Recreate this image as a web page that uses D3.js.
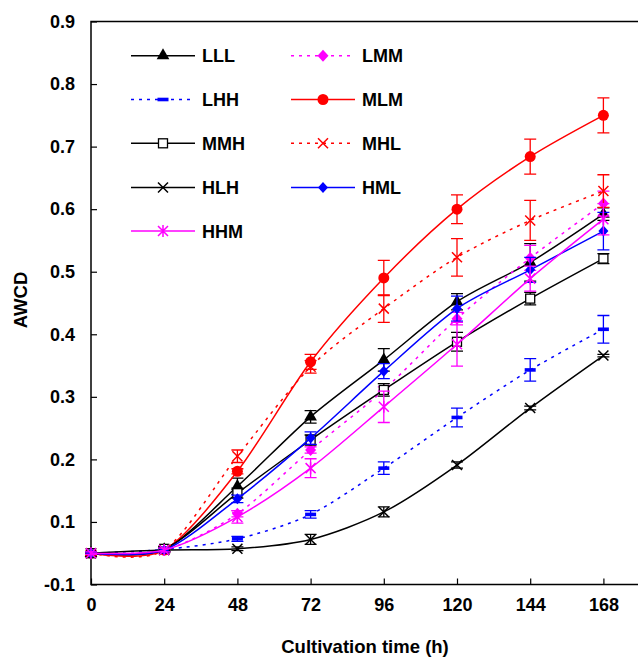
<!DOCTYPE html>
<html>
<head>
<meta charset="utf-8">
<script src="https://cdn.jsdelivr.net/npm/d3@7.9.0/dist/d3.min.js"></script>
<style>
  body { margin: 0; background: #fff; }
  svg { display: block; font-family: "Liberation Sans", Arial, sans-serif; font-weight: bold; }
</style>
</head>
<body>
<svg width="638" height="658"></svg>
<script>
// sampling times (h)
const times = [0, 24, 48, 72, 96, 120, 144, 168];
const xTicks = [0, 24, 48, 72, 96, 120, 144, 168];
const yTicks = [0, 0.1, 0.2, 0.3, 0.4, 0.5, 0.6, 0.7, 0.8, 0.9];
const yTickLabels = ['-0.1', '0.1', '0.2', '0.3', '0.4', '0.5', '0.6', '0.7', '0.8', '0.9'];

// AWCD means
const LLL = [0.050, 0.056, 0.157, 0.268, 0.359, 0.452, 0.515, 0.592];
const LMM = [0.050, 0.055, 0.113, 0.215, 0.311, 0.425, 0.522, 0.609];
const LHH = [0.050, 0.056, 0.073, 0.112, 0.186, 0.267, 0.343, 0.408];
const MLM = [0.050, 0.055, 0.181, 0.356, 0.490, 0.600, 0.684, 0.750];
const MMH = [0.050, 0.057, 0.146, 0.231, 0.311, 0.388, 0.457, 0.521];
const MHL = [0.050, 0.055, 0.205, 0.348, 0.441, 0.523, 0.582, 0.629];
const HLH = [0.050, 0.055, 0.057, 0.072, 0.116, 0.191, 0.282, 0.366];
const HML = [0.050, 0.055, 0.137, 0.234, 0.341, 0.441, 0.503, 0.565];
const HHM = [0.050, 0.055, 0.108, 0.186, 0.284, 0.384, 0.489, 0.584];

// error bars (+/-)
const LLLerr = [0.002, 0.004, 0.013, 0.010, 0.018, 0.013, 0.030, 0.010];
const LMMerr = [0.002, 0.003, 0.005, 0.005, 0.005, 0.010, 0.020, 0.020];
const LHHerr = [0.002, 0.003, 0.004, 0.006, 0.010, 0.015, 0.018, 0.022];
const MLMerr = [0.003, 0.003, 0.004, 0.012, 0.028, 0.023, 0.028, 0.028];
const MMHerr = [0.002, 0.004, 0.008, 0.008, 0.010, 0.015, 0.010, 0.008];
const MHLerr = [0.003, 0.003, 0.010, 0.010, 0.022, 0.030, 0.032, 0.026];
const HLHerr = [0.002, 0.003, 0.003, 0.008, 0.008, 0.005, 0.003, 0.002];
const HMLerr = [0.002, 0.003, 0.006, 0.010, 0.012, 0.020, 0.020, 0.030];
const HHMerr = [0.002, 0.003, 0.010, 0.015, 0.025, 0.035, 0.020, 0.025];

const series = [
  { name: 'LLL', values: LLL, err: LLLerr, color: '#000000', dash: null, marker: 'triangle' },
  { name: 'LMM', values: LMM, err: LMMerr, color: '#ff00ff', dash: '3,5', marker: 'diamond' },
  { name: 'LHH', values: LHH, err: LHHerr, color: '#0000ff', dash: '3,5', marker: 'dash' },
  { name: 'MLM', values: MLM, err: MLMerr, color: '#ff0000', dash: null, marker: 'circle' },
  { name: 'MMH', values: MMH, err: MMHerr, color: '#000000', dash: null, marker: 'square' },
  { name: 'MHL', values: MHL, err: MHLerr, color: '#ff0000', dash: '3,5', marker: 'x' },
  { name: 'HLH', values: HLH, err: HLHerr, color: '#000000', dash: null, marker: 'x' },
  { name: 'HML', values: HML, err: HMLerr, color: '#0000ff', dash: null, marker: 'smalldiamond' },
  { name: 'HHM', values: HHM, err: HHMerr, color: '#ff00ff', dash: null, marker: 'asterisk' }
];

const svg = d3.select('svg');
const x = d3.scaleLinear().domain([0, 180]).range([91, 640]);
const y = d3.scaleLinear().domain([0, 0.9]).range([584.5, 21.5]);

// frame
svg.append('path')
  .attr('d', `M${x(180)},${y(0.9)}H${x(0)}V${y(0)}H${x(180)}`)
  .attr('fill', 'none').attr('stroke', '#000').attr('stroke-width', 1.5);

// axes with inward ticks
const xAxis = svg.append('g').attr('transform', `translate(0,${y(0)})`)
  .call(d3.axisBottom(x).tickValues(xTicks).tickSizeInner(-6).tickSizeOuter(0).tickPadding(14));
const yAxis = svg.append('g').attr('transform', `translate(${x(0)},0)`)
  .call(d3.axisLeft(y).tickValues(yTicks).tickSizeInner(-6).tickSizeOuter(0).tickPadding(16)
    .tickFormat((d, i) => yTickLabels[i]));
[xAxis, yAxis].forEach(g => {
  g.select('.domain').remove();
  g.selectAll('.tick line').attr('stroke', '#000').attr('stroke-width', 1.2);
  g.selectAll('.tick text').attr('fill', '#000')
    .style('font-family', '"Liberation Sans", Arial, sans-serif')
    .style('font-weight', 'bold').style('font-size', '18px');
});

svg.append('text').attr('x', 365).attr('y', 653).attr('text-anchor', 'middle')
  .style('font-size', '18.5px').text('Cultivation time (h)');
svg.append('text').attr('transform', 'translate(27,300) rotate(-90)').attr('text-anchor', 'middle')
  .style('font-size', '18.5px').text('AWCD');

function drawMarker(g, type, color) {
  switch (type) {
    case 'triangle':
      g.append('path').attr('d', d3.symbol(d3.symbolTriangle, 70)()).attr('fill', color);
      break;
    case 'diamond':
      g.append('path').attr('d', 'M0,-6L5.5,0L0,6L-5.5,0Z').attr('fill', color);
      break;
    case 'smalldiamond':
      g.append('path').attr('d', 'M0,-5.5L5,0L0,5.5L-5,0Z').attr('fill', color);
      break;
    case 'circle':
      g.append('circle').attr('r', 5.5).attr('fill', color);
      break;
    case 'square':
      g.append('rect').attr('x', -4.5).attr('y', -4.5).attr('width', 9).attr('height', 9)
        .attr('fill', '#fff').attr('stroke', color).attr('stroke-width', 1.3);
      break;
    case 'dash':
      g.append('rect').attr('x', -5.5).attr('y', -1.8).attr('width', 11).attr('height', 3.6).attr('fill', color);
      break;
    case 'x':
      g.append('path').attr('d', 'M-5,-5L5,5M-5,5L5,-5').attr('stroke', color).attr('stroke-width', 1.5);
      break;
    case 'asterisk':
      g.append('path').attr('d', 'M-5,-5L5,5M-5,5L5,-5M0,-6V6').attr('stroke', color).attr('stroke-width', 1.5);
      break;
  }
}

const line = d3.line().x((d, i) => x(times[i])).y(d => y(d)).curve(d3.curveCardinal.tension(0.15));

series.forEach(s => {
  const g = svg.append('g');
  g.append('path').attr('d', line(s.values)).attr('fill', 'none')
    .attr('stroke', s.color).attr('stroke-width', 1.5)
    .attr('stroke-dasharray', s.dash);
  s.values.forEach((v, i) => {
    const e = s.err[i], cx = x(times[i]);
    g.append('path')
      .attr('d', `M${cx},${y(v - e)}V${y(v + e)}M${cx - 6},${y(v + e)}H${cx + 6}M${cx - 6},${y(v - e)}H${cx + 6}`)
      .attr('stroke', s.color).attr('stroke-width', 1.3).attr('fill', 'none');
  });
  s.values.forEach((v, i) => {
    drawMarker(g.append('g').attr('transform', `translate(${x(times[i])},${y(v)})`), s.marker, s.color);
  });
});

// legend, two columns filled row by row
const legendCols = [131, 291];
const legendRows = [55.7, 99.5, 143.3, 187.5, 231];
series.forEach((s, i) => {
  const cx = legendCols[i % 2], cy = legendRows[Math.floor(i / 2)];
  const g = svg.append('g').attr('transform', `translate(${cx},${cy})`);
  g.append('line').attr('x1', 0).attr('x2', 64).attr('stroke', s.color)
    .attr('stroke-width', 1.5).attr('stroke-dasharray', s.dash);
  drawMarker(g.append('g').attr('transform', 'translate(32,0)'), s.marker, s.color);
  g.append('text').attr('x', 71).attr('y', 6.5).style('font-size', '18px').text(s.name);
});
</script>
</body>
</html>
